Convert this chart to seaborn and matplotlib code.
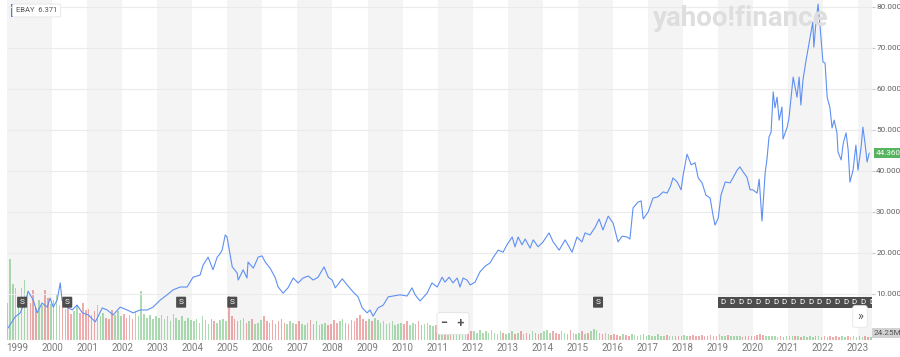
import numpy as np
import pandas as pd
import matplotlib
matplotlib.use("Agg")
import matplotlib.pyplot as plt
import seaborn as sns
from matplotlib.patches import Rectangle
import matplotlib.transforms as mtransforms

# ---------------- data ----------------
date_yr = [1998.74, 1998.94, 1999.09, 1999.29, 1999.31, 1999.46, 1999.57, 1999.71, 1999.86, 1999.94,
           2000.03, 2000.14, 2000.23, 2000.28, 2000.43, 2000.57, 2000.71, 2000.86, 2001.03, 2001.23,
           2001.43, 2001.57, 2001.74, 2001.94, 2002.14, 2002.31, 2002.51, 2002.71, 2002.88, 2003.08,
           2003.28, 2003.45, 2003.65, 2003.85, 2004.02, 2004.22, 2004.31, 2004.45, 2004.59, 2004.71,
           2004.79, 2004.85, 2004.94, 2004.99, 2005.14, 2005.28, 2005.31, 2005.45, 2005.56, 2005.59,
           2005.74, 2005.88, 2005.99, 2006.08, 2006.22, 2006.36, 2006.45, 2006.59, 2006.73, 2006.88,
           2007.02, 2007.16, 2007.31, 2007.45, 2007.59, 2007.76, 2007.88, 2007.99, 2008.08, 2008.28,
           2008.42, 2008.59, 2008.73, 2008.85, 2008.99, 2009.07, 2009.16, 2009.30, 2009.45, 2009.59,
           2009.73, 2009.93, 2010.13, 2010.27, 2010.36, 2010.50, 2010.70, 2010.84, 2010.99, 2011.13,
           2011.21, 2011.33, 2011.44, 2011.56, 2011.64, 2011.73, 2011.84, 2011.93, 2012.07, 2012.21,
           2012.36, 2012.50, 2012.58, 2012.73, 2012.87, 2012.98, 2013.13, 2013.21, 2013.30, 2013.41,
           2013.50, 2013.64, 2013.73, 2013.87, 2014.01, 2014.18, 2014.30, 2014.47, 2014.64, 2014.84,
           2014.98, 2015.12, 2015.21, 2015.35, 2015.50, 2015.61, 2015.72, 2015.87, 2016.01, 2016.15,
           2016.27, 2016.41, 2016.49, 2016.58, 2016.72, 2016.81, 2016.87, 2017.01, 2017.15, 2017.29,
           2017.44, 2017.55, 2017.64, 2017.72, 2017.84, 2017.95, 2018.01, 2018.12, 2018.24, 2018.35,
           2018.44, 2018.55, 2018.66, 2018.78, 2018.86, 2018.92, 2019.01, 2019.09, 2019.21, 2019.35,
           2019.43, 2019.55, 2019.63, 2019.72, 2019.83, 2019.92, 2020.00, 2020.12, 2020.18, 2020.26,
           2020.35, 2020.40, 2020.46, 2020.52, 2020.58, 2020.63, 2020.69, 2020.75, 2020.83, 2020.86,
           2020.98, 2021.03, 2021.15, 2021.26, 2021.32, 2021.37, 2021.43, 2021.52, 2021.57, 2021.66,
           2021.71, 2021.74, 2021.80, 2021.86, 2021.92, 2022.00, 2022.06, 2022.12, 2022.20, 2022.26,
           2022.32, 2022.40, 2022.43, 2022.52, 2022.58, 2022.66, 2022.72, 2022.77, 2022.86, 2022.94,
           2023.00, 2023.09, 2023.14, 2023.20, 2023.26, 2023.32]
price = [1.7, 4.4, 5.4, 9.8, 10.7, 8.5, 5.4, 7.8, 6.8, 9.0,
         6.8, 8.5, 12.7, 8.5, 6.8, 6.1, 7.3, 5.4, 4.9, 3.2,
         6.6, 6.1, 4.9, 6.8, 6.1, 5.4, 6.1, 6.1, 6.8, 8.5,
         9.8, 11.0, 11.7, 11.7, 14.1, 14.6, 17.1, 19.0, 15.9, 19.0,
         19.8, 20.7, 24.4, 23.9, 16.6, 15.1, 13.4, 15.9, 13.9, 17.8,
         16.3, 19.0, 19.3, 17.8, 16.3, 14.1, 11.7, 10.2, 11.5, 13.9,
         12.7, 13.9, 14.4, 13.4, 14.1, 16.6, 14.1, 13.4, 11.5, 13.7,
         12.2, 10.5, 9.3, 6.6, 5.4, 6.1, 4.6, 6.6, 7.3, 9.3,
         9.5, 9.8, 9.5, 11.5, 9.8, 8.3, 10.2, 12.7, 11.7, 14.1,
         12.9, 14.1, 12.7, 13.9, 11.7, 13.9, 13.4, 12.2, 12.9, 15.4,
         16.8, 17.6, 18.8, 20.7, 20.2, 22.0, 23.9, 21.5, 23.9, 22.0,
         23.4, 21.2, 23.2, 21.5, 22.7, 24.9, 22.7, 20.7, 23.2, 20.2,
         23.9, 22.7, 24.9, 24.4, 26.3, 28.3, 25.6, 29.0, 27.3, 22.7,
         24.1, 23.9, 23.4, 31.0, 32.4, 32.7, 28.3, 30.0, 33.4, 33.7,
         34.9, 34.6, 36.1, 38.3, 37.3, 35.4, 39.0, 44.1, 41.5, 42.0,
         38.3, 37.1, 34.1, 33.4, 29.3, 26.8, 28.5, 34.1, 37.3, 37.1,
         38.3, 40.2, 41.0, 39.8, 38.5, 35.4, 35.4, 34.6, 38.0, 27.8,
         39.5, 42.7, 48.3, 49.5, 59.3, 55.4, 58.0, 52.4, 55.6, 47.8,
         50.7, 52.9, 62.9, 58.0, 62.9, 56.1, 62.2, 67.1, 69.5, 73.9,
         76.3, 70.2, 76.1, 80.7, 74.9, 66.6, 66.3, 58.0, 55.4, 50.5,
         52.4, 49.3, 44.6, 42.7, 46.8, 49.3, 45.1, 37.3, 40.2, 46.3,
         40.2, 45.9, 50.7, 46.8, 42.2, 44.36]

# monthly volume in millions, Sep 1998 .. May 2023
vol_first_month = "1998-09"
volume_m = [
    300, 650, 450, 420,
    340, 420, 480, 360, 300, 400, 260, 320, 280, 400, 340, 290,
    320, 360, 280, 340, 250, 300, 210, 230, 280, 220, 300, 240,
    250, 200, 230, 280, 190, 220, 180, 170, 240, 200, 230, 190,
    210, 180, 200, 170, 230, 190, 390, 210, 180, 200, 170, 190,
    180, 200, 170, 190, 150, 210, 180, 160, 190, 150, 180, 160,
    150, 170, 140, 190, 160, 130, 170, 150, 140, 160, 170, 150,
    350, 190, 170, 150, 160, 180, 140, 150, 170, 130, 140, 160,
    190, 150, 140, 160, 130, 150, 170, 140, 130, 150, 140, 130,
    150, 130, 120, 140, 160, 130, 150, 120, 130, 140, 120, 130,
    160, 140, 150, 170, 140, 130, 160, 150, 180, 200, 170, 150,
    170, 150, 180, 160, 140, 150, 130, 140, 150, 120, 130, 140,
    130, 150, 120, 140, 130, 150, 120, 130, 140, 120, 110, 120,
    80, 70, 90, 60, 70, 80, 90, 60, 70, 80, 60, 70,
    70, 60, 80, 60, 70, 60, 80, 60, 50, 70, 60, 50,
    60, 70, 50, 60, 70, 50, 60, 50, 70, 60, 50, 60,
    70, 80, 60, 70, 60, 50, 70, 60, 50, 80, 60, 50,
    60, 70, 50, 60, 70, 90, 80, 60, 50, 60, 50, 40,
    50, 40, 35, 45, 40, 35, 50, 40, 35, 40, 45, 35,
    40, 35, 30, 45, 35, 30, 40, 35, 30, 35, 30, 35,
    40, 35, 30, 40, 35, 30, 40, 30, 35, 40, 30, 35,
    45, 35, 30, 40, 35, 30, 35, 30, 25, 35, 30, 30,
    35, 40, 50, 40, 35, 30, 35, 30, 25, 30, 25, 30,
    35, 30, 30, 35, 25, 30, 25, 30, 25, 35, 30, 25,
    30, 25, 30, 25, 30, 25, 30, 25, 30, 25, 30, 25,
    30, 25, 30, 25, 24.25,
]

split_dates = [1999.14, 2000.43, 2003.68, 2005.14, 2015.58]
div_dates = [2019.15, 2019.40, 2019.65, 2019.90, 2020.15, 2020.40, 2020.65, 2020.90,
             2021.15, 2021.40, 2021.65, 2021.90, 2022.15, 2022.40, 2022.65, 2022.90,
             2023.15, 2023.40]
year_ticks = list(range(1999, 2024))
price_ticks = [10, 20, 30, 40, 50, 60, 70, 80]
last_price = 44.36
last_volume = "24.25M"
ticker_label = "EBAY  6.371"

# ---------------- style ----------------
sns.set_style("white")
plt.rcParams['font.family'] = ['Roboto', 'DejaVu Sans']

W, H = 900, 357
fig = plt.figure(figsize=(9, 3.57), dpi=100)
fig.patch.set_facecolor("white")
rect = [7 / W, 17 / H, 865 / W, 340 / H]
xlim = (1998.71, 2023.40)

# volume / background axes
axv = fig.add_axes(rect, zorder=0)
axv.set_xlim(*xlim)
axv.set_ylim(0, 2720)
axv.axvspan(xlim[0], 1999, color="#f4f4f4", lw=0)
for y in year_ticks:
    if y % 2 == 1:
        axv.axvspan(y, y + 1, color="#f4f4f4", lw=0)

months = pd.period_range(vol_first_month, periods=len(volume_m), freq="M")
vol_x = np.array([m.year + (m.month - 0.5) / 12 for m in months])
p_mid = np.interp(vol_x, date_yr, price)
p_prev = np.interp(vol_x - 1 / 12, date_yr, price)
colors = ["#5cb865" if a >= b else "#e05a5a" for a, b in zip(p_mid, p_prev)]
axv.bar(vol_x, volume_m, width=0.045, color=colors, alpha=0.5, lw=0)
axv.set_xticks([])
axv.set_yticks([])
for s in axv.spines.values():
    s.set_visible(False)

# price axes
ax = fig.add_axes(rect, zorder=1)
ax.patch.set_alpha(0)
sns.lineplot(x=date_yr, y=price, ax=ax, color="#5e90f2", lw=0.8, estimator=None, sort=False)
ax.set_xlim(*xlim)
ax.set_ylim(-1.22, 81.7)
for v in price_ticks:
    ax.axhline(v, color="#ebebeb", lw=0.8, zorder=0)
ax.yaxis.tick_right()
ax.set_yticks(price_ticks)
ax.set_yticklabels([f"{v:.3f}" for v in price_ticks])
ax.tick_params(axis="y", length=2, color="#c8c8c8", labelsize=5.9, labelcolor="#5f5f5f", pad=1)
ax.set_xticks(year_ticks)
ax.set_xticklabels([str(y) for y in year_ticks])
ax.tick_params(axis="x", length=0, labelsize=7, labelcolor="#7a7a7a", pad=2.5)
for s in ax.spines.values():
    s.set_visible(False)
ax.set_xlabel("")
ax.set_ylabel("")

# split / dividend markers
for d in split_dates:
    ax.text(d, 8.0, "S", ha="center", va="center", fontsize=6, color="white", zorder=5,
            bbox=dict(boxstyle="round,pad=0.3,rounding_size=0.1", fc="#4d4d4d", ec="none"))
for d in div_dates:
    ax.text(d, 8.0, "D", ha="center", va="center", fontsize=5.8, color="white", zorder=5, clip_on=True,
            bbox=dict(boxstyle="square,pad=0.3", fc="#4d4d4d", ec="none"))

# last price tag
trans = mtransforms.blended_transform_factory(ax.transAxes, ax.transData)
ax.text(1.004, last_price, f"{last_price:.3f}", transform=trans, ha="left", va="center",
        fontsize=5.9, color="white", clip_on=False,
        bbox=dict(boxstyle="square,pad=0.2", fc="#56b35f", ec="none"))

# last volume tag
fig.text(874 / W, 1 - 333 / H, last_volume, ha="left", va="center", fontsize=5.9, color="#555555",
         bbox=dict(boxstyle="square,pad=0.2", fc="#d2d2d2", ec="none"))

# ticker label
fig.text(16 / W, 1 - 10.5 / H, ticker_label, ha="left", va="center", fontsize=5.5, color="#555555",
         bbox=dict(boxstyle="round,pad=0.45,rounding_size=0.2", fc="white", ec="#e4e4e4", lw=0.6))
fig.add_artist(Rectangle((11 / W, 1 - 17 / H), 2 / W, 13 / H, transform=fig.transFigure,
                         color="#3d7ff0", lw=0))

# watermark
fig.text(741 / W, 1 - 18 / H, "yahoo!finance", ha="center", va="center", fontsize=20,
         fontweight="bold", color="#dedede", family=["Roboto", "DejaVu Sans"])

# zoom buttons
fig.text(453 / W, 1 - 323.5 / H, "\u2212   +", ha="center", va="center", fontsize=9, fontweight="bold",
         color="#555555",
         bbox=dict(boxstyle="round,pad=0.35,rounding_size=0.2", fc="white", ec="#e2e2e2", lw=0.6))
fig.text(860 / W, 1 - 316.5 / H, "\u00bb", ha="center", va="center", fontsize=9, color="#555555",
         bbox=dict(boxstyle="round,pad=0.35,rounding_size=0.2", fc="white", ec="#e6e6e6", lw=0.6))

fig.savefig("out.png", dpi=100, facecolor="white")
